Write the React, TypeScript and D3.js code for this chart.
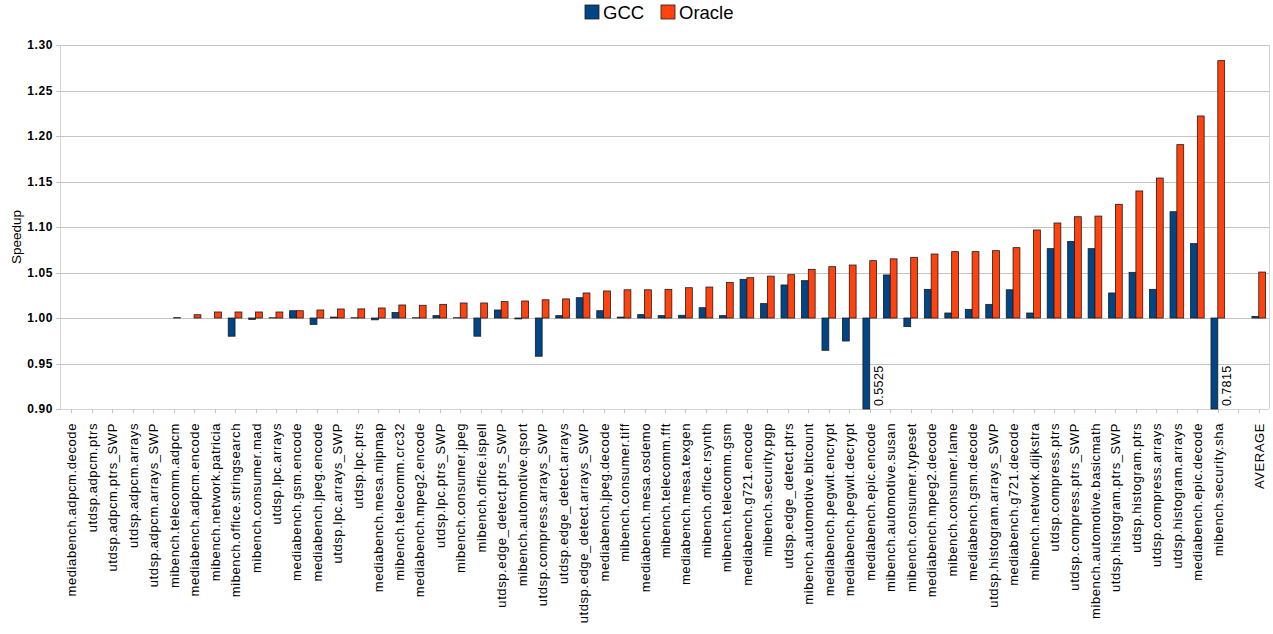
import React from "react";
import * as d3 from "d3";

const categories = [
  "mediabench.adpcm.decode", "utdsp.adpcm.ptrs", "utdsp.adpcm.ptrs_SWP", "utdsp.adpcm.arrays",
  "utdsp.adpcm.arrays_SWP", "mibench.telecomm.adpcm", "mediabench.adpcm.encode", "mibench.network.patricia",
  "mibench.office.stringsearch", "mibench.consumer.mad", "utdsp.lpc.arrays", "mediabench.gsm.encode",
  "mediabench.jpeg.encode", "utdsp.lpc.arrays_SWP", "utdsp.lpc.ptrs", "mediabench.mesa.mipmap",
  "mibench.telecomm.crc32", "mediabench.mpeg2.encode", "utdsp.lpc.ptrs_SWP", "mibench.consumer.jpeg",
  "mibench.office.ispell", "utdsp.edge_detect.ptrs_SWP", "mibench.automotive.qsort", "utdsp.compress.arrays_SWP",
  "utdsp.edge_detect.arrays", "utdsp.edge_detect.arrays_SWP", "mediabench.jpeg.decode", "mibench.consumer.tiff",
  "mediabench.mesa.osdemo", "mibench.telecomm.fft", "mediabench.mesa.texgen", "mibench.office.rsynth",
  "mibench.telecomm.gsm", "mediabench.g721.encode", "mibench.security.pgp", "utdsp.edge_detect.ptrs",
  "mibench.automotive.bitcount", "mediabench.pegwit.encrypt", "mediabench.pegwit.decrypt", "mediabench.epic.encode",
  "mibench.automotive.susan", "mibench.consumer.typeset", "mediabench.mpeg2.decode", "mibench.consumer.lame",
  "mediabench.gsm.decode", "utdsp.histogram.arrays_SWP", "mediabench.g721.decode", "mibench.network.dijkstra",
  "utdsp.compress.ptrs", "utdsp.compress.ptrs_SWP", "mibench.automotive.basicmath", "utdsp.histogram.ptrs_SWP",
  "utdsp.histogram.ptrs", "utdsp.compress.arrays", "utdsp.histogram.arrays", "mediabench.epic.decode",
  "mibench.security.sha", "", "AVERAGE",
];

const gccValues: (number | null)[] = [
  1, 1, 1, 1, 1, 1.0, 1.0, 1.0, 0.98, 0.9985,
  1.0003, 1.008, 0.993, 1.001, 1.0003, 0.998, 1.006, 1.0003, 1.0026, 1.0003,
  0.98, 1.0088, 0.999, 0.958, 1.0026, 1.0223, 1.008, 1.001, 1.0037, 1.0026,
  1.003, 1.0113, 1.0026, 1.0425, 1.0158, 1.0363, 1.041, 0.9645, 0.9747, 0.5525,
  1.0473, 0.9905, 1.0315, 1.0055, 1.0095, 1.015, 1.031, 1.0055, 1.0762, 1.0842,
  1.0762, 1.0275, 1.0502, 1.0315, 1.1168, 1.0817, 0.7815, null, 1.0018,
];

const oracleValues: (number | null)[] = [
  1, 1, 1, 1, 1, 1.0004, 1.0036, 1.0066, 1.0066, 1.0066,
  1.0066, 1.008, 1.0088, 1.0099, 1.01, 1.011, 1.0143, 1.014, 1.015, 1.0165,
  1.0165, 1.018, 1.0187, 1.02, 1.021, 1.0275, 1.0297, 1.031, 1.031, 1.0315,
  1.0333, 1.034, 1.039, 1.0443, 1.046, 1.0476, 1.0535, 1.0564, 1.0582, 1.063,
  1.065, 1.0667, 1.0703, 1.0729, 1.0729, 1.074, 1.0773, 1.0967, 1.1044, 1.1113,
  1.112, 1.1249, 1.1396, 1.1538, 1.1905, 1.222, 1.2828, null, 1.0505,
];

const yTicks = [0.9, 0.95, 1.0, 1.05, 1.1, 1.15, 1.2, 1.25, 1.3];

const seriesNames = ["GCC", "Oracle"];
const seriesColors = ["#004586", "#ff420e"];

const W = 1273;
const H = 634;
const M = { left: 61, right: 1269, top: 45, bottom: 409 };
const FONT = "'Liberation Sans', Arial, sans-serif";

export default function App() {
  const x = d3
    .scaleBand<number>()
    .domain(categories.map((_, i) => i))
    .range([M.left, M.right])
    .paddingInner(0)
    .paddingOuter(0);
  const y = d3.scaleLinear().domain([0.9, 1.3]).range([M.bottom, M.top]);
  const bw = x.bandwidth();
  const barW = bw / 3;
  const base = y(1);
  const series = [gccValues, oracleValues];

  return (
    <svg
      width={W}
      height={H}
      style={{ position: "absolute", left: 0, top: 0, background: "#fff" }}
      fontFamily={FONT}
    >
      <rect x={0} y={0} width={W} height={H} fill="#fff" />
      {/* gridlines */}
      {yTicks.map((t) => (
        <line
          key={"g" + t}
          x1={M.left}
          x2={M.right}
          y1={Math.round(y(t)) + 0.5}
          y2={Math.round(y(t)) + 0.5}
          stroke="#c4c4c4"
          strokeWidth={1}
        />
      ))}
      {/* frame */}
      <line x1={M.right + 0.5} x2={M.right + 0.5} y1={M.top} y2={M.bottom} stroke="#d4d4d4" />
      <line x1={M.left - 0.5} x2={M.left - 0.5} y1={M.top} y2={M.bottom + 1} stroke="#d4d4d4" />
      <line x1={M.left} x2={M.right} y1={M.bottom + 0.5} y2={M.bottom + 0.5} stroke="#d4d4d4" />
      {/* y ticks & labels */}
      {yTicks.map((t) => (
        <g key={"t" + t}>
          <line
            x1={M.left - 5}
            x2={M.left}
            y1={Math.round(y(t)) + 0.5}
            y2={Math.round(y(t)) + 0.5}
            stroke="#c4c4c4"
          />
          <text
            x={M.left - 8}
            y={y(t)}
            dy="0.36em"
            textAnchor="end"
            fontSize={12}
            fontWeight="bold"
            letterSpacing={0.6}
            fill="#000"
          >
            {t.toFixed(2)}
          </text>
        </g>
      ))}
      <text
        transform={`translate(21,237) rotate(-90)`}
        textAnchor="middle"
        fontSize={13.5}
        fill="#000"
      >
        Speedup
      </text>
      {/* x ticks */}
      {categories.map((_, i) => {
        const cx = Math.round((x(i) as number) + bw / 2) + 0.5;
        return (
          <line key={"xt" + i} x1={cx} x2={cx} y1={M.bottom} y2={M.bottom + 4} stroke="#c4c4c4" />
        );
      })}
      {/* bars */}
      {series.map((vals, s) =>
        vals.map((v, i) => {
          if (v === null) return null;
          const vx = (x(i) as number) + bw / 2 - barW + s * barW;
          const vy = y(Math.max(v, 0.9));
          const top = Math.min(vy, base);
          const h = Math.abs(vy - base);
          if (h < 0.2) return null;
          return (
            <rect
              key={`b${s}-${i}`}
              x={vx}
              y={top}
              width={barW}
              height={h}
              fill={seriesColors[s]}
              stroke="#1c1c1c"
              strokeWidth={0.8}
            />
          );
        })
      )}
      {/* labels for clipped bars */}
      {series.map((vals, s) =>
        vals.map((v, i) => {
          if (v === null || v >= 0.9) return null;
          const vx = (x(i) as number) + bw / 2 - barW + s * barW + barW;
          return (
            <text
              key={`l${s}-${i}`}
              transform={`translate(${vx + 13},${M.bottom - 3}) rotate(-90)`}
              fontSize={12.5}
              letterSpacing={0.4}
              fill="#000"
            >
              {String(v)}
            </text>
          );
        })
      )}
      {/* x labels */}
      {categories.map((c, i) => {
        const cx = (x(i) as number) + bw / 2;
        return (
          <text
            key={"xl" + i}
            transform={`translate(${cx + 5},${M.bottom + 14}) rotate(-90)`}
            textAnchor="end"
            fontSize={13}
            letterSpacing={0.6}
            fill="#000"
          >
            {c}
          </text>
        );
      })}
      {/* legend */}
      {seriesNames.map((n, i) => {
        const lx = [585, 661][i];
        return (
          <g key={"lg" + n}>
            <rect x={lx} y={5} width={14} height={14} fill={seriesColors[i]} stroke="#1c1c1c" strokeWidth={0.8} />
            <text x={lx + 18} y={19} fontSize={18.5} fill="#000">
              {n}
            </text>
          </g>
        );
      })}
    </svg>
  );
}
